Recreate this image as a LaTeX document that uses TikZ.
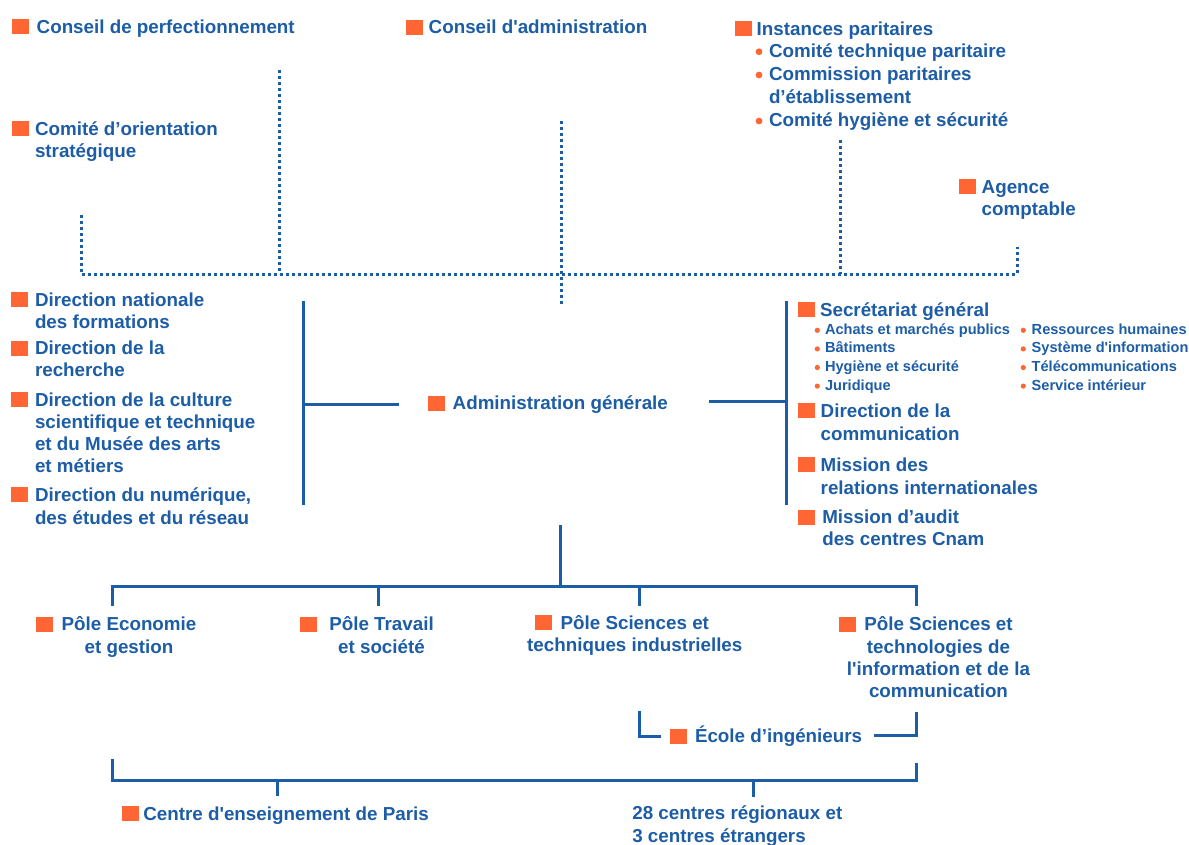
\documentclass[tikz,border=0pt]{standalone}
\usepackage{fontspec}
\setmainfont{Liberation Sans}
\definecolor{cnamblue}{HTML}{1D5DA6}
\definecolor{cnamorange}{HTML}{FF6633}
\newcommand{\mainsize}{\fontsize{18.8}{22.3}\selectfont\bfseries}
\newcommand{\smallsize}{\fontsize{14.6}{18.6}\selectfont\bfseries}
% multi-line labels are placed by the baseline of their last line
\tikzset{
  lbl/.style={anchor=base west, inner sep=0pt, outer sep=0pt, text=cnamblue, font=\mainsize, align=left},
  clbl/.style={anchor=base, inner sep=0pt, outer sep=0pt, text=cnamblue, font=\mainsize, align=center},
  slbl/.style={anchor=base west, inner sep=0pt, outer sep=0pt, text=cnamblue, font=\smallsize, align=left},
  sq/.style={anchor=south west, fill=cnamorange, inner sep=0pt, outer sep=0pt, minimum width=17pt, minimum height=15pt},
  dotline/.style={draw=cnamblue, line width=3pt, dash pattern=on 2.8pt off 3.2pt},
  solidline/.style={draw=cnamblue, line width=3pt},
  bigdot/.style={fill=cnamorange},
}
\begin{document}
\begin{tikzpicture}[x=1pt,y=-1pt]
\useasboundingbox (0,0) rectangle (1189,844);

% ---- top level councils
\node[sq] (sqCP) at (12.3,34.3) {};
\node[lbl] (CP) at (36.7,33.5) {Conseil de perfectionnement};
\node[sq] (sqCO) at (12.3,136) {};
\node[lbl] (CO) at (35,157.3) {Comité d’orientation\\stratégique};
\node[sq] (sqCA) at (406,34.7) {};
\node[lbl] (CA) at (428.7,33.7) {Conseil d\textquotesingle administration};
\node[sq] (sqIP) at (735,36) {};
\node[lbl] (IP) at (756.7,35) {Instances paritaires};
\node[lbl, font=\fontsize{18.8}{22.9}\selectfont\bfseries] (IPlist) at (769,126)
  {Comité technique paritaire\\Commission paritaires\\d’établissement\\Comité hygiène et sécurité};
\foreach \y in {51.7,75,121}{\fill[bigdot] (759,\y) circle (3.4pt);}
\node[sq] (sqAC) at (959,194) {};
\node[lbl] (AC) at (981.7,215.6) {Agence\\comptable};

% ---- dotted links of the councils
\coordinate (dA) at (81,215);
\coordinate (dB) at (81,274);
\coordinate (dC) at (1017,274);
\coordinate (dD) at (1017,247);
\coordinate (dE) at (279,70);
\coordinate (dF) at (279,274);
\coordinate (dG) at (561.5,121);
\coordinate (dH) at (561.5,306);
\coordinate (dI) at (840,140);
\coordinate (dJ) at (840,274);
\draw[dotline] (dA) -- (dB) -- (dC) -- (dD);
\draw[dotline] (dE) -- (dF);
\draw[dotline] (dG) -- (dH);
\draw[dotline] (dI) -- (dJ);

% ---- directions (left)
\node[sq] (sqD1) at (10.7,306.7) {};
\node[lbl] (D1) at (35,328.3) {Direction nationale\\des formations};
\node[sq] (sqD2) at (10.7,356) {};
\node[lbl] (D2) at (35,376.6) {Direction de la\\recherche};
\node[sq] (sqD3) at (10.7,407.3) {};
\node[lbl] (D3) at (35,472.9) {Direction de la culture\\scientifique et technique\\et du Musée des arts\\et métiers};
\node[sq] (sqD4) at (10.7,501.7) {};
\node[lbl] (D4) at (35,524) {Direction du numérique,\\des études et du réseau};

% ---- administration
\node[sq] (sqAG) at (427.7,410.7) {};
\node[lbl] (AG) at (452.7,409.3) {Administration générale};

% ---- secretariat (right)
\node[sq] (sqSG) at (797.7,317.3) {};
\node[lbl] (SG) at (820,316) {Secrétariat général};
\node[slbl] (SG1) at (825,390.1) {Achats et marchés publics\\Bâtiments\\Hygiène et sécurité\\Juridique};
\node[slbl] (SG2) at (1031.7,390.1) {Ressources humaines\\Système d\textquotesingle information\\Télécommunications\\Service intérieur};
\foreach \y in {330.3,348.9,367.5,386.1}{
  \fill[bigdot] (817.3,\y) circle (2.6pt);
  \fill[bigdot] (1023.3,\y) circle (2.6pt);
}
\node[sq] (sqDC) at (797.7,418.3) {};
\node[lbl] (DC) at (820.7,440) {Direction de la\\communication};
\node[sq] (sqMR) at (797.7,471.7) {};
\node[lbl] (MR) at (820.7,494) {Mission des\\relations internationales};
\node[sq] (sqMA) at (797.7,525) {};
\node[lbl] (MA) at (822.3,545.6) {Mission d’audit\\des centres Cnam};

% ---- brackets around the administration
\coordinate (lT) at (303,301);
\coordinate (lB) at (303,505);
\coordinate (lM) at (303,404);
\coordinate (lE) at (399,404);
\coordinate (rS) at (709,401.7);
\coordinate (rM) at (786,401.7);
\coordinate (rT) at (786,301);
\coordinate (rB) at (786,505);
\draw[solidline] (lT) -- (lB);
\draw[solidline] (lM) -- (lE);
\draw[solidline] (rS) -- (rM);
\draw[solidline] (rT) -- (rB);

% ---- poles
\coordinate (aD) at (560.5,525);
\coordinate (aH) at (560.5,586);
\coordinate (p1b) at (112.7,606);
\coordinate (p1t) at (112.7,586);
\coordinate (p4t) at (916,586);
\coordinate (p4b) at (916,606);
\coordinate (p2t) at (378.3,586);
\coordinate (p2b) at (378.3,606);
\coordinate (p3t) at (639,586);
\coordinate (p3b) at (639,606);
\draw[solidline] (aD) -- (aH);
\draw[solidline] (p1b) -- (p1t) -- (p4t) -- (p4b);
\draw[solidline] (p2t) -- (p2b);
\draw[solidline] (p3t) -- (p3b);

\node[sq] (sqP1) at (36,631.7) {};
\node[clbl] (P1) at (129,653) {Pôle Economie\\et gestion};
\node[sq] (sqP2) at (300,631.7) {};
\node[clbl] (P2) at (381.5,653) {Pôle Travail\\et société};
\node[sq] (sqP3) at (535,630) {};
\node[clbl] (P3) at (634.8,651.6) {Pôle Sciences et\\techniques industrielles};
\node[sq] (sqP4) at (839,631.7) {};
\node[clbl] (P4) at (938.5,697.6) {Pôle Sciences et\\technologies de\\l\textquotesingle information et de la\\communication};

% ---- engineering school
\node[sq] (sqEI) at (670,744) {};
\node[lbl] (EI) at (695,742.7) {École d’ingénieurs};
\coordinate (eA) at (639,711);
\coordinate (eB) at (639,736);
\coordinate (eC) at (661,736);
\coordinate (eD) at (874,735.5);
\coordinate (eE) at (916,735.5);
\coordinate (eF) at (916,711.5);
\draw[solidline] (eA) -- (eB) -- (eC);
\draw[solidline] (eD) -- (eE) -- (eF);

% ---- teaching centres
\coordinate (cA) at (112.7,759);
\coordinate (cB) at (112.7,780);
\coordinate (cC) at (916,780);
\coordinate (cD) at (916,763);
\coordinate (cP1) at (277.3,780);
\coordinate (cP2) at (277.3,796);
\coordinate (cR1) at (753.3,780);
\coordinate (cR2) at (753.3,796.5);
\draw[solidline] (cA) -- (cB) -- (cC) -- (cD);
\draw[solidline] (cP1) -- (cP2);
\draw[solidline] (cR1) -- (cR2);

\node[sq] (sqCE) at (121.7,821) {};
\node[lbl] (CE) at (143.3,820) {Centre d\textquotesingle enseignement de Paris};
\node[lbl] (CR) at (632.3,842) {28 centres régionaux et\\3 centres étrangers};
\end{tikzpicture}
\end{document}
